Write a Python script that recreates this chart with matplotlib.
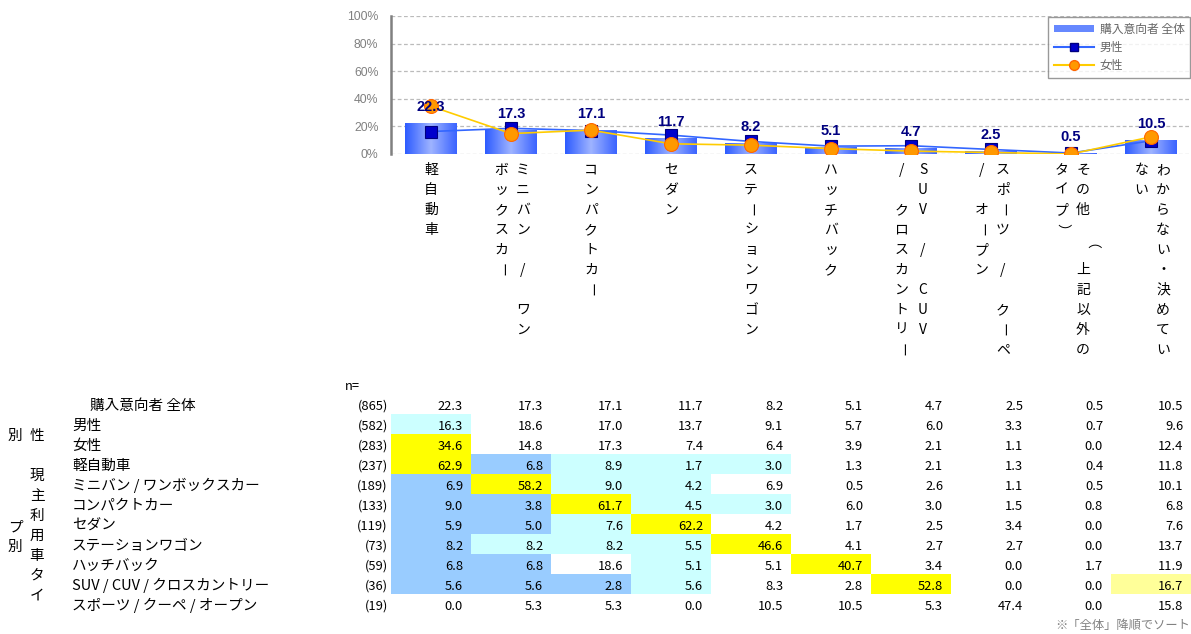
import numpy as np
import matplotlib
matplotlib.use("Agg")
import matplotlib.pyplot as plt
from matplotlib.colors import LinearSegmentedColormap
from matplotlib.patches import Rectangle, Patch
from matplotlib.lines import Line2D
from matplotlib.transforms import blended_transform_factory

plt.rcParams['font.family'] = ['Noto Sans CJK JP', 'DejaVu Sans']

# ---- data ----
categories = ["軽自動車", "ミニバン / ワンボックスカー", "コンパクトカー", "セダン",
              "ステーションワゴン", "ハッチバック", "SUV / CUV / クロスカントリー",
              "スポーツ / クーペ / オープン", "その他（上記以外のタイプ）",
              "わからない・決めていない"]
# vertical axis labels, columns listed right to left
label_columns = [
    ["軽自動車"],
    ["ミニバン / ワン", "ボックスカー"],
    ["コンパクトカー"],
    ["セダン"],
    ["ステーションワゴン"],
    ["ハッチバック"],
    ["SUV / CUV", "/ クロスカントリー"],
    ["スポーツ / クーペ", "/ オープン"],
    ["その他 （上記以外の", "タイプ）"],
    ["わからない・決めてい", "ない"],
]

overall = [22.3, 17.3, 17.1, 11.7, 8.2, 5.1, 4.7, 2.5, 0.5, 10.5]
male = [16.3, 18.6, 17.0, 13.7, 9.1, 5.7, 6.0, 3.3, 0.7, 9.6]
female = [34.6, 14.8, 17.3, 7.4, 6.4, 3.9, 2.1, 1.1, 0.0, 12.4]

row_labels = ["購入意向者 全体", "男性", "女性", "軽自動車", "ミニバン / ワンボックスカー",
              "コンパクトカー", "セダン", "ステーションワゴン", "ハッチバック",
              "SUV / CUV / クロスカントリー", "スポーツ / クーペ / オープン"]
row_n = [865, 582, 283, 237, 189, 133, 119, 73, 59, 36, 19]
table_values = [
    overall,
    male,
    female,
    [62.9, 6.8, 8.9, 1.7, 3.0, 1.3, 2.1, 1.3, 0.4, 11.8],
    [6.9, 58.2, 9.0, 4.2, 6.9, 0.5, 2.6, 1.1, 0.5, 10.1],
    [9.0, 3.8, 61.7, 4.5, 3.0, 6.0, 3.0, 1.5, 0.8, 6.8],
    [5.9, 5.0, 7.6, 62.2, 4.2, 1.7, 2.5, 3.4, 0.0, 7.6],
    [8.2, 8.2, 8.2, 5.5, 46.6, 4.1, 2.7, 2.7, 0.0, 13.7],
    [6.8, 6.8, 18.6, 5.1, 5.1, 40.7, 3.4, 0.0, 1.7, 11.9],
    [5.6, 5.6, 2.8, 5.6, 8.3, 2.8, 52.8, 0.0, 0.0, 16.7],
    [0.0, 5.3, 5.3, 0.0, 10.5, 10.5, 5.3, 47.4, 0.0, 15.8],
]
# cell highlight codes: Y=+10pt, y=+5pt, c=-5pt, b=-10pt, .=none
cell_codes = [
    "..........",
    "c.........",
    "Y.........",
    "Ybccc.....",
    "bYcc......",
    "bbYcc.....",
    "bbcY......",
    "bcccY.....",
    "bb.c.Y....",
    "bbbc..Y..y",
    "..........",
]
code_colors = {"Y": "#FFFF00", "y": "#FFFF99", "c": "#CCFFFF", "b": "#99CCFF", ".": "none"}

W, H = 1191, 634
fig = plt.figure(figsize=(W / 100, H / 100), dpi=100)

# ---- chart ----
ax = fig.add_axes([391 / W, 1 - 154 / H, 800 / W, 138 / H])
x = np.arange(len(categories))

bar_cmap = LinearSegmentedColormap.from_list("barg", ["#2E5CFF", "#9FB4FF", "#3B64FF"])
grad = np.linspace(0, 1, 64).reshape(1, -1)
bars = ax.bar(x, overall, width=0.65, color="#6688FF", zorder=2)
for b in bars:
    im = ax.imshow(grad, extent=[b.get_x(), b.get_x() + b.get_width(), 0, b.get_height()],
                   aspect="auto", cmap=bar_cmap, zorder=2)
    im.set_clip_path(b)

ax.plot(x, male, color="#3366FF", lw=1.2, marker="s", ms=8.5, mfc="#0000CC",
        mec="#000080", mew=0.8, zorder=4)
ax.plot(x, female, color="#FFCC00", lw=1.2, marker="o", ms=10, mfc="#FF9900",
        mec="#FF6600", mew=0.8, zorder=5)

for xi, v in zip(x, overall):
    ax.annotate(f"{v:.1f}", (xi, v), xytext=(0, 11.5), textcoords="offset points",
                ha="center", va="center", fontsize=10.5, fontweight="bold",
                color="#000080", family=["Liberation Sans", "DejaVu Sans"], zorder=6)

ax.set_xlim(-0.5, 9.5)
ax.set_ylim(0, 100)
ax.set_yticks(range(0, 101, 20))
ax.set_yticklabels([f"{t}%" for t in range(0, 101, 20)],
                   family=["Liberation Sans", "DejaVu Sans"], fontsize=8.8, color="#808080")
ax.tick_params(axis="y", length=0, pad=9)
ax.set_xticks([])
for t in range(0, 101, 20):
    ax.axhline(t, color="#BBBBBB", lw=0.9, ls=(0, (3, 2)), zorder=1)
for s in ["top", "right", "bottom"]:
    ax.spines[s].set_visible(False)
ax.spines["left"].set_color("#808080")
ax.spines["left"].set_linewidth(1.8)

handles = [Patch(facecolor="#6688FF", edgecolor="none"),
           Line2D([], [], color="#3366FF", marker="s", ms=6, mfc="#0000CC", mec="#000080"),
           Line2D([], [], color="#FFCC00", marker="o", ms=7, mfc="#FF9900", mec="#FF6600")]
leg = ax.legend(handles, ["購入意向者 全体", "男性", "女性"], loc="upper right",
                bbox_to_anchor=(1.0, 1.0), fontsize=8.5, frameon=True, fancybox=False,
                borderaxespad=0.05, handlelength=3.4, labelspacing=0.45, borderpad=0.5,
                handletextpad=0.5, handleheight=0.6)
leg.get_frame().set_edgecolor("#808080")
leg.get_frame().set_linewidth(1.0)
for t in leg.get_texts():
    t.set_color("#666666")

# vertical category labels (stacked characters)
vtrans = blended_transform_factory(ax.transData, fig.transFigure)
col_offsets = {1: [0.0], 2: [0.15, -0.12]}
for xi, cols in zip(x, label_columns):
    offs = col_offsets[len(cols)]
    for off, col in zip(offs, cols):
        for k, ch in enumerate(col):
            if ch == " ":
                continue
            rot = 0
            if ch in "ー（）":
                rot = -90
            ax.text(xi + off, 1 - (170 + 20 * k) / H, ch, transform=vtrans,
                    ha="center", va="center", fontsize=10, rotation=rot,
                    rotation_mode="anchor", color="#000000", clip_on=False)

# ---- table ----
tax = fig.add_axes([391 / W, 1 - 614 / H, 800 / W, 220 / H])
tax.set_xlim(-0.5, 9.5)
tax.set_ylim(10.5, -0.5)
tax.axis("off")

base = 0.3  # text baseline within a row
for i, (vals, codes) in enumerate(zip(table_values, cell_codes)):
    for j, (v, c) in enumerate(zip(vals, codes)):
        if c != ".":
            tax.add_patch(Rectangle((j - 0.5, i - 0.5), 1, 1, facecolor=code_colors[c],
                                    edgecolor="none", zorder=1))
        tax.text(j + 0.4, i + base, f"{v:.1f}", ha="right", va="baseline",
                 fontsize=9.3, zorder=2)

ltrans = blended_transform_factory(fig.transFigure, tax.transData)
for i, (lab, n) in enumerate(zip(row_labels, row_n)):
    lx = 90 if i == 0 else 72
    tax.text(lx / W, i + base, lab, transform=ltrans, ha="left", va="baseline", fontsize=10.5)
    tax.text(388 / W, i + base, f"({n})", transform=ltrans, ha="right", va="baseline",
             fontsize=9.3)
fig.text(345 / W, 1 - 387 / H, "n=", ha="left", va="center", fontsize=9.3)

# group labels (vertical, right column first)
fig.text(37 / W, 1 - 436 / H, "性", ha="center", va="center", fontsize=10.5)
fig.text(15 / W, 1 - 436 / H, "別", ha="center", va="center", fontsize=10.5)
for k, ch in enumerate("現主利用車タイ"):
    fig.text(37 / W, 1 - (476 + 20 * k) / H, ch, ha="center", va="center", fontsize=10.5)
for k, ch in enumerate("プ別"):
    fig.text(15 / W, 1 - (528 + 19 * k) / H, ch, ha="center", va="center", fontsize=10.5)

fig.text(1190 / W, 1 - 625 / H, "※「全体」降順でソート", ha="right", va="center",
         fontsize=8.8, color="#808080")

fig.savefig("out.png", dpi=100)
